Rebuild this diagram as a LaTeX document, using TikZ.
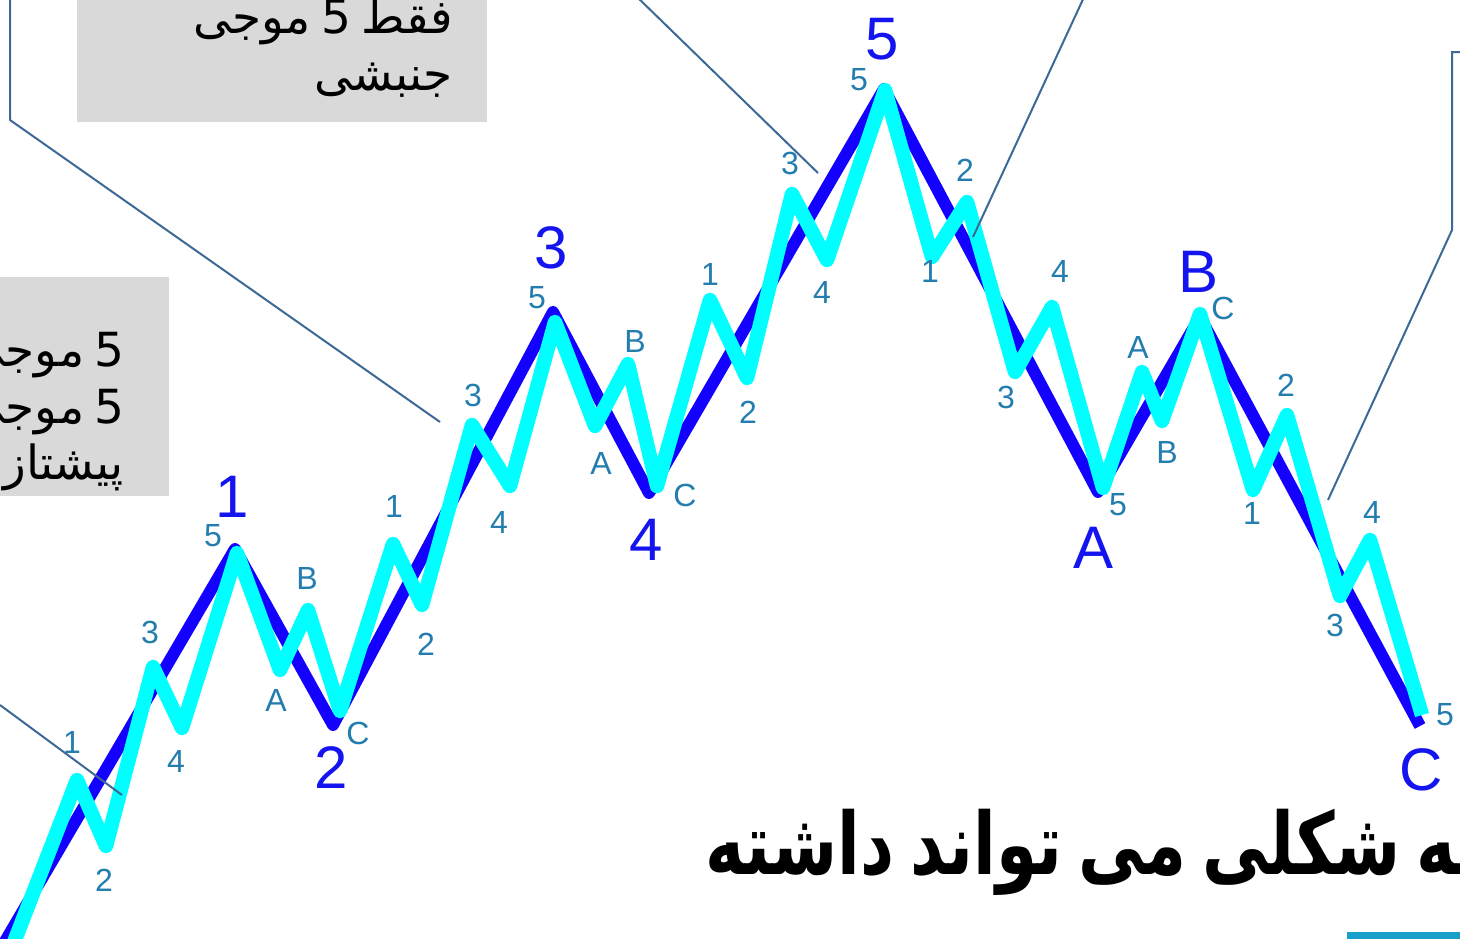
\documentclass[tikz,border=0pt]{standalone}
\usepackage{fontspec}
\setmainfont{Liberation Sans}
\newfontfamily\arabicfont[Script=Arabic]{DejaVu Sans}
\newfontfamily\titlefont[Script=Arabic,WordSpace=0.7]{DejaVu Sans}
\TeXXeTstate=1
\definecolor{wblue}{RGB}{20,0,255}
\definecolor{wcyan}{RGB}{0,255,255}
\definecolor{lteal}{RGB}{35,125,175}
\definecolor{bigblue}{RGB}{20,20,240}
\definecolor{leader}{RGB}{60,105,150}
\definecolor{boxgray}{RGB}{217,217,217}
\definecolor{barblue}{RGB}{25,160,200}
\begin{document}
\begin{tikzpicture}[x=1pt,y=-1pt,
 smalllbl/.style={text=lteal,font=\fontsize{32}{32}\selectfont,inner sep=0pt},
 biglbl/.style={text=bigblue,font=\fontsize{60}{60}\selectfont,inner sep=0pt},
 mainwave/.style={draw=wblue,line width=12pt,line join=round},
 subwave/.style={draw=wcyan,line width=14.5pt,line join=round},
 leaderline/.style={draw=leader,line width=2pt},
 fatext/.style={inner sep=0pt,font=\arabicfont\fontsize{47}{47}\selectfont,text=black},
 titletext/.style={inner sep=0pt,font=\titlefont\bfseries\fontsize{86}{86}\selectfont,text=black}]
\useasboundingbox (0,0) rectangle (1460,938);
\clip (0,0) rectangle (1460,938);
\fill[white] (0,0) rectangle (1460,938);

% grey callout boxes
\fill[boxgray] (77,-10) rectangle (487,122);
\fill[boxgray] (-10,277) rectangle (169,496);

\node[fatext,anchor=base east] (t1) at (453,33) {\beginR فقط 5 موجی\endR};
\node[fatext,anchor=base east] (t2) at (453,90) {\beginR جنبشی\endR};
\node[fatext,anchor=base east] (l1) at (125,366) {\beginR 5 موجی\endR};
\node[fatext,anchor=base east] (l2) at (125,423) {\beginR 5 موجی\endR};
\node[fatext,anchor=base east] (l3) at (124,479) {\beginR پیشتاز\endR};

% main wave
\coordinate (m0) at (0,950);
\coordinate (m1) at (235,549);
\coordinate (m2) at (333,725);
\coordinate (m3) at (553,312);
\coordinate (m4) at (649,493);
\coordinate (m5) at (884,89);
\coordinate (mA) at (1098,492);
\coordinate (mB) at (1200,317);
\coordinate (mC) at (1420,726);
\draw[mainwave] (m0) -- (m1) -- (m2) -- (m3) -- (m4) -- (m5) -- (mA) -- (mB) -- (mC);

% sub waves
\draw[subwave] (11,950) -- (77,780) -- (106,846) -- (153,667) -- (182,728) -- (237,553)
  -- (280,670) -- (308,610) -- (340,711)
  -- (393,544) -- (422,605) -- (472,425) -- (510,486) -- (555,322)
  -- (595,426) -- (628,364) -- (657,486)
  -- (710,300) -- (747,378) -- (792,194) -- (827,260) -- (885,90)
  -- (932,257) -- (967,202) -- (1015,372) -- (1052,307) -- (1103,488)
  -- (1142,372) -- (1162,421) -- (1200,314)
  -- (1253,490) -- (1287,415) -- (1340,596) -- (1370,540) -- (1422,715);

% big labels
\node[biglbl] (b1) at (232,497) {1};
\node[biglbl] (b2) at (331,768) {2};
\node[biglbl] (b3) at (551,248) {3};
\node[biglbl] (b4) at (646,540) {4};
\node[biglbl] (b5) at (882,39) {5};
\node[biglbl] (bA) at (1093,548) {A};
\node[biglbl] (bB) at (1198,272) {B};
\node[biglbl] (bC) at (1421,770) {C};

% small labels
\node[smalllbl] (s11) at (72,742) {1};
\node[smalllbl] (s12) at (104,880) {2};
\node[smalllbl] (s13) at (150,632) {3};
\node[smalllbl] (s14) at (176,761) {4};
\node[smalllbl] (s15) at (213,536) {5};
\node[smalllbl] (s2A) at (276,700) {A};
\node[smalllbl] (s2B) at (307,578) {B};
\node[smalllbl] (s2C) at (358,733) {C};
\node[smalllbl] (s31) at (394,506) {1};
\node[smalllbl] (s32) at (426,644) {2};
\node[smalllbl] (s33) at (473,395) {3};
\node[smalllbl] (s34) at (499,522) {4};
\node[smalllbl] (s35) at (537,298) {5};
\node[smalllbl] (s4A) at (601,463) {A};
\node[smalllbl] (s4B) at (635,341) {B};
\node[smalllbl] (s4C) at (685,495) {C};
\node[smalllbl] (s51) at (710,274) {1};
\node[smalllbl] (s52) at (748,412) {2};
\node[smalllbl] (s53) at (790,163) {3};
\node[smalllbl] (s54) at (822,292) {4};
\node[smalllbl] (s55) at (859,80) {5};
\node[smalllbl] (sA1) at (930,271) {1};
\node[smalllbl] (sA2) at (965,170) {2};
\node[smalllbl] (sA3) at (1006,397) {3};
\node[smalllbl] (sA4) at (1060,271) {4};
\node[smalllbl] (sA5) at (1118,505) {5};
\node[smalllbl] (sBA) at (1138,347) {A};
\node[smalllbl] (sBB) at (1167,452) {B};
\node[smalllbl] (sBC) at (1223,308) {C};
\node[smalllbl] (sC1) at (1252,513) {1};
\node[smalllbl] (sC2) at (1286,385) {2};
\node[smalllbl] (sC3) at (1335,625) {3};
\node[smalllbl] (sC4) at (1372,512) {4};
\node[smalllbl] (sC5) at (1445,715) {5};

% leader lines
\coordinate (la0) at (0,705);
\coordinate (la1) at (122,795);
\draw[leaderline] (la0) -- (la1);
\coordinate (lb0) at (10,-5);
\coordinate (lb1) at (10,120);
\coordinate (lb2) at (440,422);
\draw[leaderline] (lb0) -- (lb1) -- (lb2);
\coordinate (lc0) at (635,-5);
\coordinate (lc1) at (818,173);
\draw[leaderline] (lc0) -- (lc1);
\coordinate (ld0) at (1085,-5);
\coordinate (ld1) at (973,237);
\draw[leaderline] (ld0) -- (ld1);
\coordinate (le0) at (1470,52);
\coordinate (le1) at (1452,52);
\coordinate (le2) at (1452,230);
\coordinate (le3) at (1328,500);
\draw[leaderline] (le0) -- (le1) -- (le2) -- (le3);

% title
\node[titletext,anchor=base west] (title) at (705,874) {\scalebox{0.77}[1]{\beginR چه شکلی می تواند داشته\endR}};

% bottom accent bar
\fill[barblue] (1347,932) rectangle (1470,945);
\end{tikzpicture}
\end{document}
